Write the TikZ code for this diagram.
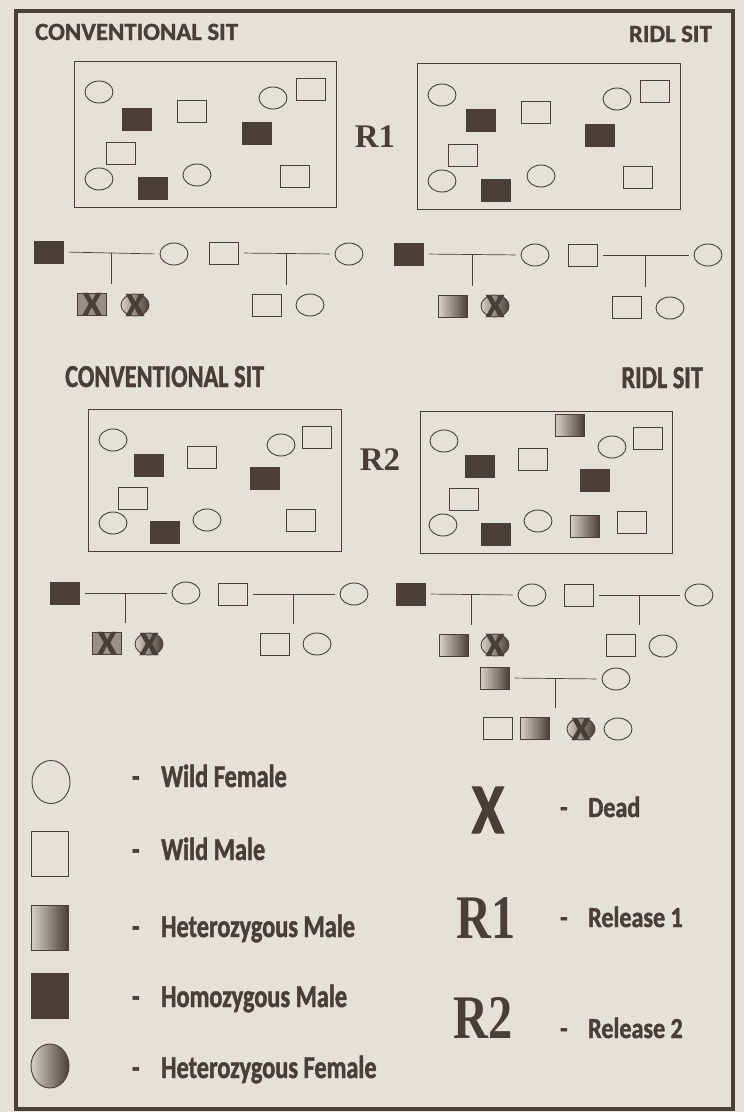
\documentclass[tikz,border=0pt]{standalone}
\usepackage{fontspec}
\usetikzlibrary{shapes.geometric,calc}
\newfontfamily\headfont[FakeBold=1.2]{Carlito}
\newfontfamily\condfont[FakeStretch=0.76, FakeBold=1.4]{Carlito}
\newfontfamily\smallcond[FakeStretch=0.83, FakeBold=1.4]{Carlito}
\newfontfamily\relfont{Liberation Serif}
\newfontfamily\relcond[FakeStretch=0.78]{Liberation Serif}
\definecolor{ink}{RGB}{74,62,56}
\definecolor{paper}{RGB}{229,225,217}
\definecolor{hetlight}{RGB}{212,207,199}
\begin{document}
\begin{tikzpicture}[
    x=1pt, y=-1pt,
    female/.style={ellipse, draw=ink, line width=0.9pt, minimum width=28pt, minimum height=22pt, inner sep=0pt},
    male/.style={rectangle, draw=ink, line width=0.9pt, minimum width=29pt, minimum height=22pt, inner sep=0pt},
    homo/.style={male, fill=ink},
    hetm/.style={male, left color=hetlight, right color=ink},
    hetf/.style={female, left color=hetlight, right color=ink},
    xmark/.style={inner sep=0pt, text=ink, font=\headfont\bfseries\fontsize{34}{34}\selectfont},
    deadm/.style={male, fill=ink!50!paper, label={[xmark]center:X}},
    deadf/.style={hetf, label={[xmark]center:X}},
    kin/.style={draw=ink, line width=0.7pt, shorten <=5pt, shorten >=5pt},
    drop/.style={draw=ink, line width=0.7pt, shorten >=9pt},
    frame/.style={draw=ink, line width=0.9pt},
    head/.style={inner sep=0pt, text=ink, font=\headfont\bfseries\fontsize{24.8}{26}\selectfont},
    headcond/.style={inner sep=0pt, text=ink, font=\condfont\bfseries\fontsize{32}{34}\selectfont},
    rel/.style={inner sep=0pt, text=ink, font=\relfont\bfseries\fontsize{33}{33}\selectfont},
    legtxt/.style={inner sep=0pt, text=ink, anchor=base west, font=\condfont\bfseries\fontsize{32}{34}\selectfont},
    legsmall/.style={inner sep=0pt, text=ink, anchor=base west, font=\smallcond\bfseries\fontsize{29}{30}\selectfont}
  ]
    \fill[paper] (0,0) rectangle (744,1112);
    \useasboundingbox (0,0) rectangle (744,1112);
    \draw[ink, line width=3.5pt] (16,11) rectangle (733,1109);

    \node[head, anchor=base west] (conv1) at (35,40) {CONVENTIONAL SIT};
    \node[head, anchor=base east] (ridl1) at (712,42) {RIDL SIT};
    \node[rel, anchor=base] (rone) at (375,147) {R1};
    \draw[frame] (74,61) rectangle (336,207);
    \draw[frame] (417,63) rectangle (680,209);
    \foreach \x/\y [count=\i] in {99/92, 273/98, 99/179, 197/175, 442/95, 617/99, 442/181, 541/176}
      \node[female] (af\i) at (\x,\y) {};
    \foreach \x/\y [count=\i] in {192/111, 311/89, 121/153, 295/176, 536/112, 655/91, 463/155, 638/177}
      \node[male] (am\i) at (\x,\y) {};
    \foreach \x/\y [count=\i] in {137/119, 257/133, 153/188, 481/120, 600/135, 496/190}
      \node[homo] (ah\i) at (\x,\y) {};

    \node[homo] (p1a) at (49,252) {};
    \node[female] (p1b) at (174,254) {};
    \node[male] (p1c) at (224,253) {};
    \node[female] (p1d) at (349,254) {};
    \node[homo] (p1e) at (409,254) {};
    \node[female] (p1f) at (535,255) {};
    \node[male] (p1g) at (583,255) {};
    \node[female] (p1h) at (708,255) {};
    \node[deadm] (c1a) at (92,304) {};
    \node[deadf] (c1b) at (135,305) {};
    \node[male] (c1c) at (267,305) {};
    \node[female] (c1d) at (310,305) {};
    \node[hetm] (c1e) at (453,306) {};
    \node[deadf] (c1f) at (495,306) {};
    \node[male] (c1g) at (627,307) {};
    \node[female] (c1h) at (670,308) {};
    \foreach \a/\b/\c in {p1a/p1b/c1a, p1c/p1d/c1c, p1e/p1f/c1e, p1g/p1h/c1g} {
      \draw[kin] (\a.east) -- (\b.west);
      \coordinate (m\a) at ($(\a)!0.5!(\b)$);
      \draw[drop] (m\a) -- (m\a |- \c.north);
    }

    \node[headcond, anchor=base west] (conv2) at (65,387) {CONVENTIONAL SIT};
    \node[headcond, anchor=base east] (ridl2) at (703,388) {RIDL SIT};
    \node[rel, anchor=base] (rtwo) at (380,470) {R2};
    \draw[frame] (88,409) rectangle (341,551);
    \draw[frame] (420,411) rectangle (672,553);
    \foreach \x/\y [count=\i] in {113/440, 281/445, 113/523, 207/520, 444/441, 612/447, 443/525, 538/521}
      \node[female] (bf\i) at (\x,\y) {};
    \foreach \x/\y [count=\i] in {202/457, 317/437, 133/498, 301/520, 533/459, 648/438, 464/499, 632/522}
      \node[male] (bm\i) at (\x,\y) {};
    \foreach \x/\y [count=\i] in {149/465, 265/478, 165/532, 480/466, 595/480, 496/534}
      \node[homo] (bh\i) at (\x,\y) {};
    \foreach \x/\y [count=\i] in {570/425, 585/526}
      \node[hetm] (bt\i) at (\x,\y) {};

    \node[homo] (p2a) at (65,593) {};
    \node[female] (p2b) at (186,593) {};
    \node[male] (p2c) at (233,594) {};
    \node[female] (p2d) at (354,594) {};
    \node[homo] (p2e) at (411,594) {};
    \node[female] (p2f) at (532,595) {};
    \node[male] (p2g) at (579,595) {};
    \node[female] (p2h) at (699,595) {};
    \node[deadm] (c2a) at (107,643) {};
    \node[deadf] (c2b) at (149,644) {};
    \node[male] (c2c) at (275,644) {};
    \node[female] (c2d) at (317,644) {};
    \node[hetm] (c2e) at (454,645) {};
    \node[deadf] (c2f) at (495,645) {};
    \node[male] (c2g) at (621,645) {};
    \node[female] (c2h) at (663,646) {};
    \node[hetm] (p3a) at (495,678) {};
    \node[female] (p3b) at (616,679) {};
    \node[male] (c3a) at (498,728) {};
    \node[hetm] (c3b) at (535,728) {};
    \node[deadf] (c3c) at (581,729) {};
    \node[female] (c3d) at (618,729) {};
    \foreach \a/\b/\c in {p2a/p2b/c2a, p2c/p2d/c2c, p2e/p2f/c2e, p2g/p2h/c2g, p3a/p3b/c3a} {
      \draw[kin] (\a.east) -- (\b.west);
      \coordinate (m\a) at ($(\a)!0.5!(\b)$);
      \draw[drop] (m\a) -- (m\a |- \c.north);
    }

    \node[female, minimum width=38pt, minimum height=43pt] (kf) at (51,782) {};
    \node[male, minimum width=37pt, minimum height=45pt] (km) at (50,854) {};
    \node[hetm, minimum width=37pt, minimum height=45pt] (kt) at (50,928) {};
    \node[homo, minimum width=37pt, minimum height=45pt] (kh) at (50,996) {};
    \node[hetf, minimum width=38pt, minimum height=44pt] (ktf) at (50,1066) {};
    \node[legtxt] (lf) at (132,787) {\makebox[29pt][l]{-}Wild Female};
    \node[legtxt] (lm) at (132,860) {\makebox[29pt][l]{-}Wild Male};
    \node[legtxt] (lt) at (132,937) {\makebox[29pt][l]{-}Heterozygous Male};
    \node[legtxt] (lh) at (132,1007) {\makebox[29pt][l]{-}Homozygous Male};
    \node[legtxt] (ltf) at (132,1078) {\makebox[29pt][l]{-}Heterozygous Female};

    \node[inner sep=0pt, text=ink, anchor=base, font=\smallcond\bfseries\fontsize{71}{71}\selectfont] (kx) at (488,833) {X};
    \node[inner sep=0pt, text=ink, anchor=base, font=\relcond\bfseries\fontsize{62}{62}\selectfont] (kr1) at (486,938) {R1};
    \node[inner sep=0pt, text=ink, anchor=base, font=\relcond\bfseries\fontsize{62}{62}\selectfont] (kr2) at (483,1038) {R2};
    \node[legsmall] (lx) at (560,817) {\makebox[28pt][l]{-}Dead};
    \node[legsmall] (lr1) at (560,927) {\makebox[28pt][l]{-}Release 1};
    \node[legsmall] (lr2) at (560,1038) {\makebox[28pt][l]{-}Release 2};
  \end{tikzpicture}
\end{document}
